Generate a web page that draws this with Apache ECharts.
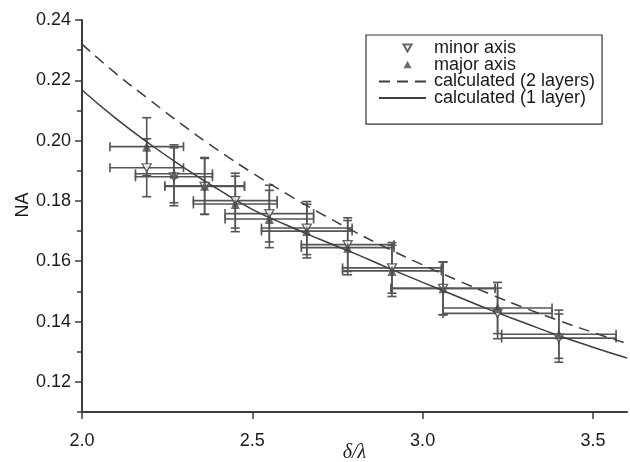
<!DOCTYPE html>
<html>
<head>
<meta charset="utf-8">
<script src="https://cdn.jsdelivr.net/npm/echarts@6.0.0/dist/echarts.min.js"></script>
<style>
  html, body { margin: 0; padding: 0; background: #fff; }
  #chart { width: 630px; height: 462px; }
</style>
</head>
<body>
<div id="chart"></div>
<script>
// measured points (delta/lambda)
const xVals = [2.19, 2.27, 2.36, 2.45, 2.55, 2.66, 2.78, 2.91, 3.06, 3.22, 3.40];
const xErr = [0.108, 0.113, 0.117, 0.123, 0.130, 0.133, 0.136, 0.145, 0.153, 0.160, 0.168];
// NA along the major / minor axis
const majorNA = [0.198, 0.189, 0.185, 0.179, 0.174, 0.170, 0.1645, 0.1568, 0.151, 0.1445, 0.1358];
const majorErr = [0.0096, 0.0096, 0.0094, 0.0092, 0.0095, 0.0089, 0.0090, 0.0085, 0.0088, 0.0085, 0.0080];
const minorNA = [0.191, 0.188, 0.1848, 0.1801, 0.1758, 0.171, 0.1655, 0.1578, 0.151, 0.1427, 0.1345];
const minorErr = [0.0096, 0.0096, 0.0093, 0.0091, 0.0094, 0.0088, 0.0089, 0.0084, 0.0087, 0.0084, 0.0080];

// calculated curves
const calcX = [2.0, 2.1, 2.2, 2.3, 2.4, 2.5, 2.6, 2.7, 2.8, 2.9, 3.0, 3.1, 3.2, 3.3, 3.4, 3.5, 3.6];
const twoLayer = [0.2320, 0.2222, 0.2134, 0.2048, 0.1968, 0.1893, 0.1824, 0.1759, 0.1698, 0.1641, 0.1588, 0.1538, 0.1490, 0.1445, 0.1403, 0.1364, 0.1327];
const oneLayer = [0.2168, 0.2073, 0.1988, 0.1910, 0.1838, 0.1772, 0.1720, 0.1672, 0.1626, 0.1577, 0.1530, 0.1484, 0.1438, 0.1395, 0.1353, 0.1315, 0.1279];

// ticks
const xTicks = [2.0, 2.5, 3.0, 3.5];
const yMajorTicks = [0.12, 0.14, 0.16, 0.18, 0.20, 0.22, 0.24];

const INK = '#3d3d3d';
const FONT = "'Liberation Sans', Arial, Helvetica, sans-serif";

const barData = (ys, yErr) => xVals.map((x, i) => [x, ys[i], xErr[i], yErr[i]]);
const ptData = (ys) => xVals.map((x, i) => [x, ys[i]]);

// legend icons: 47x8 box so the triangle keeps its shape
const downIcon = 'path://M0,0M47,8M24.5,0.5L32.5,0.5L28.5,7.5Z';
const upIcon = 'path://M0,0M47,8M24.5,7.5L32.5,7.5L28.5,0Z';

// error bars with caps
const renderErrorBar = (params, api) => {
  const x = api.value(0), y = api.value(1), dx = api.value(2), dy = api.value(3);
  const c = api.coord([x, y]);
  const l = api.coord([x - dx, y]);
  const r = api.coord([x + dx, y]);
  const t = api.coord([x, y + dy]);
  const b = api.coord([x, y - dy]);
  const cap = 4.5;
  const style = { stroke: '#555', lineWidth: 1.6 };
  const seg = (x1, y1, x2, y2) => ({ type: 'line', shape: { x1, y1, x2, y2 }, style });
  return {
    type: 'group',
    children: [
      seg(l[0], c[1], r[0], c[1]),
      seg(l[0], c[1] - cap, l[0], c[1] + cap),
      seg(r[0], c[1] - cap, r[0], c[1] + cap),
      seg(c[0], t[1], c[0], b[1]),
      seg(c[0] - cap, t[1], c[0] + cap, t[1]),
      seg(c[0] - cap, b[1], c[0] + cap, b[1])
    ]
  };
};

const chart = echarts.init(document.getElementById('chart'), null, { renderer: 'canvas' });

chart.setOption({
  backgroundColor: '#fff',
  animation: false,
  textStyle: { fontFamily: FONT },
  grid: { left: 82, right: 3, top: 20, bottom: 50, outerBoundsMode: 'none', containLabel: false },
  legend: {
    left: 366,
    top: 35,
    orient: 'vertical',
    itemWidth: 47,
    itemHeight: 8,
    itemGap: -1.3,
    symbolRotate: 0,
    padding: [4, 7, 17, 12],
    borderColor: '#333',
    borderWidth: 1.2,
    selectedMode: false,
    textStyle: { fontSize: 18, color: '#1a1a1a', fontFamily: FONT, padding: [0, 0, 0, 3] },
    data: [
      { name: 'minor axis', icon: downIcon },
      { name: 'major axis', icon: upIcon },
      { name: 'calculated (2 layers)', itemStyle: { opacity: 0 } },
      { name: 'calculated (1 layer)', itemStyle: { opacity: 0 } }
    ]
  },
  xAxis: {
    type: 'value',
    min: 2.0,
    max: 3.6,
    interval: 0.5,
    name: 'δ/λ',
    nameLocation: 'middle',
    nameGap: 31,
    nameMoveOverlap: false,
    nameTextStyle: { fontFamily: "'Liberation Serif', 'DejaVu Serif', serif", fontStyle: 'italic', fontSize: 20, color: '#1a1a1a' },
    axisLine: { show: true, lineStyle: { color: INK, width: 2 } },
    axisTick: { show: true, customValues: xTicks, length: 7, lineStyle: { color: INK, width: 1.5 } },
    axisLabel: { customValues: xTicks, fontSize: 18, color: '#1a1a1a', margin: 20, formatter: (v) => v.toFixed(1) },
    splitLine: { show: false }
  },
  yAxis: [
    {
      type: 'value',
      min: 0.11,
      max: 0.24,
      interval: 0.01,
      name: 'NA',
      nameLocation: 'middle',
      nameGap: 50,
      nameMoveOverlap: false,
      nameTextStyle: { fontSize: 18, color: '#1a1a1a', padding: [0, 0, 0, 22] },
      axisLine: { show: true, lineStyle: { color: INK, width: 2 } },
      axisTick: { show: true, length: 5, lineStyle: { color: INK, width: 1.5 } },
      axisLabel: { customValues: yMajorTicks, fontSize: 18, color: '#1a1a1a', margin: 11, formatter: (v) => v.toFixed(2) },
      splitLine: { show: false }
    },
    {
      type: 'value',
      position: 'left',
      min: 0.11,
      max: 0.24,
      interval: 0.01,
      axisLine: { show: false },
      axisTick: { show: true, customValues: yMajorTicks, length: 7, lineStyle: { color: INK, width: 1.5 } },
      axisLabel: { show: false },
      splitLine: { show: false }
    }
  ],
  series: [
    {
      type: 'custom',
      name: 'minor bars',
      renderItem: renderErrorBar,
      data: barData(minorNA, minorErr),
      encode: { x: 0, y: 1 },
      z: 2
    },
    {
      type: 'custom',
      name: 'major bars',
      renderItem: renderErrorBar,
      data: barData(majorNA, majorErr),
      encode: { x: 0, y: 1 },
      z: 2
    },
    {
      type: 'line',
      name: 'calculated (2 layers)',
      data: calcX.map((x, i) => [x, twoLayer[i]]),
      smooth: true,
      symbol: 'none',
      color: INK,
      lineStyle: { color: INK, width: 1.5, type: [11, 7] },
      z: 3
    },
    {
      type: 'line',
      name: 'calculated (1 layer)',
      data: calcX.map((x, i) => [x, oneLayer[i]]),
      smooth: true,
      symbol: 'none',
      color: INK,
      lineStyle: { color: INK, width: 1.5 },
      z: 3
    },
    {
      type: 'scatter',
      name: 'minor axis',
      data: ptData(minorNA),
      symbol: 'triangle',
      symbolRotate: 180,
      symbolSize: [9, 8],
      itemStyle: { color: '#fff', borderColor: INK, borderWidth: 1.3 },
      z: 4
    },
    {
      type: 'scatter',
      name: 'major axis',
      data: ptData(majorNA),
      symbol: 'triangle',
      symbolSize: [9, 10],
      itemStyle: { color: '#474747' },
      z: 5
    }
  ]
});
</script>
</body>
</html>
